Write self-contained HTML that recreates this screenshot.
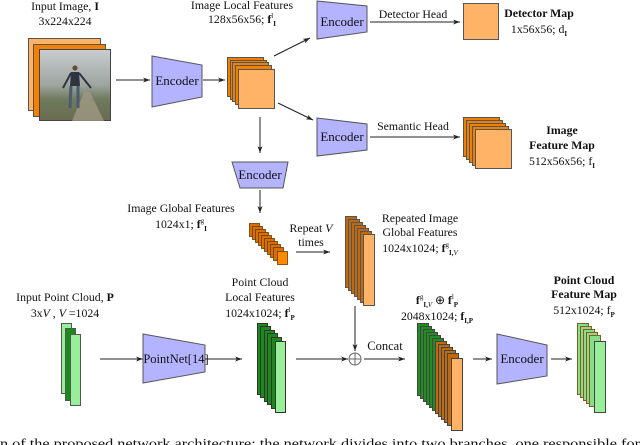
<!DOCTYPE html>
<html><head><meta charset="utf-8"><style>
html,body{margin:0;padding:0;background:#fff;}
svg{display:block;font-family:"Liberation Serif",serif;}
</style></head><body>
<svg width="640" height="445" viewBox="0 0 640 445" xmlns="http://www.w3.org/2000/svg">
<defs>
<marker id="a" markerWidth="8" markerHeight="8" refX="7" refY="4" orient="auto" markerUnits="userSpaceOnUse"><path d="M0,1.5 L7,4 L0,6.5 L2,4 Z" fill="#222"/></marker>
<linearGradient id="sky" x1="0" y1="0" x2="0" y2="1"><stop offset="0" stop-color="#c9cdd0"/><stop offset="0.5" stop-color="#9ea5a0"/><stop offset="0.7" stop-color="#6f7a5e"/><stop offset="1" stop-color="#6a6c50"/></linearGradient>
</defs>
<g fill="#111" font-size="11.8" text-anchor="middle">
<rect x="28.5" y="38.5" width="72" height="72" fill="#ffb366" stroke="#555"/>
<rect x="33.5" y="44.5" width="72" height="72" fill="#f58000" stroke="#555"/>
<rect x="39.5" y="49.5" width="71" height="71" fill="url(#sky)" stroke="#444"/>
<path d="M72,121 L84,92 L90,92 L104,121 Z" fill="#a09885" opacity="0.8"/>
<circle cx="75" cy="68" r="2.6" fill="#6a4a3a"/>
<path d="M71,72 L79,72 L80,86 L70,86 Z" fill="#2f3540"/>
<path d="M71,73 L63,88 M79,73 L91,88" stroke="#2f3540" stroke-width="2"/>
<path d="M71,86 L70,108 M78,86 L78,108" stroke="#4a5a70" stroke-width="3"/>
<text x="65" y="10">Input Image, <tspan font-weight="bold">I</tspan></text>
<text x="65" y="25">3x224x224</text>
<line x1="116" y1="80" x2="150" y2="80" stroke="#222" marker-end="url(#a)"/>
<path d="M152,56 L202,65 L202,97 L152,107 Z" fill="#b3b3ff" stroke="#555"/>
<text x="177" y="85" font-size="13">Encoder</text>
<line x1="203" y1="80" x2="225" y2="80" stroke="#222" marker-end="url(#a)"/>
<g stroke="#555" fill="#f08000">
<rect x="227.5" y="57.5" width="36" height="39"/><rect x="230.5" y="60.5" width="36" height="39"/><rect x="232.5" y="62.5" width="36" height="39"/><rect x="235.5" y="65.5" width="36" height="39"/><rect x="238.5" y="69.5" width="36" height="39" fill="#ffb366"/>
</g>
<text x="242" y="9">Image Local Features</text>
<text x="242" y="23">128x56x56; <tspan font-weight="bold">f</tspan><tspan font-size="7" dy="-5">l</tspan><tspan font-size="7" font-weight="bold" dy="8">I</tspan></text>
<line x1="274" y1="56" x2="310" y2="38" stroke="#222" marker-end="url(#a)"/>
<line x1="278" y1="103" x2="313" y2="120" stroke="#222" marker-end="url(#a)"/>
<path d="M317,1 L367,6 L367,32 L317,39 Z" fill="#b3b3ff" stroke="#555"/>
<text x="342" y="26" font-size="13">Encoder</text>
<line x1="370" y1="22" x2="460" y2="22" stroke="#222" marker-end="url(#a)"/>
<text x="413" y="18">Detector Head</text>
<rect x="463.5" y="3.5" width="35" height="36" fill="#ffb366" stroke="#555"/>
<text x="539" y="17" font-weight="bold">Detector Map</text>
<text x="539" y="33">1x56x56; d<tspan font-size="7" font-weight="bold" dy="3">I</tspan></text>
<path d="M317,118 L367,124 L367,150 L317,156 Z" fill="#b3b3ff" stroke="#555"/>
<text x="342" y="141" font-size="13">Encoder</text>
<line x1="370" y1="137" x2="460" y2="137" stroke="#222" marker-end="url(#a)"/>
<text x="413" y="130">Semantic Head</text>
<g stroke="#555" fill="#f08000">
<rect x="463.5" y="117.5" width="36" height="39"/><rect x="466.5" y="120.5" width="36" height="39"/><rect x="469.5" y="123.5" width="36" height="39"/><rect x="472.5" y="126.5" width="36" height="39"/><rect x="475.5" y="129.5" width="36" height="39" fill="#ffb366"/>
</g>
<text x="562" y="134" font-weight="bold">Image</text>
<text x="562" y="149" font-weight="bold">Feature Map</text>
<text x="562" y="165">512x56x56; f<tspan font-size="7" font-weight="bold" dy="3">I</tspan></text>
<line x1="260" y1="117" x2="260" y2="153" stroke="#222" marker-end="url(#a)"/>
<path d="M232,162 L288,162 L283,188 L240,188 Z" fill="#b3b3ff" stroke="#555"/>
<text x="260" y="179" font-size="13">Encoder</text>
<line x1="260" y1="190" x2="260" y2="213" stroke="#222" marker-end="url(#a)"/>
<text x="181" y="212">Image Global Features</text>
<text x="181" y="228">1024x1; <tspan font-weight="bold">f</tspan><tspan font-size="7" dy="-5">g</tspan><tspan font-size="7" font-weight="bold" dy="8">I</tspan></text>
<g stroke="#6b3a00" stroke-width="0.8" fill="#d86f00">
<rect x="249.5" y="223.5" width="10" height="13"/><rect x="252.5" y="226.5" width="10" height="13"/><rect x="255.5" y="229.5" width="10" height="13"/><rect x="258.5" y="232.5" width="10" height="13"/><rect x="261.5" y="235.5" width="10" height="13"/><rect x="264.5" y="238.5" width="10" height="13"/><rect x="267.5" y="241.5" width="10" height="13"/><rect x="270.5" y="244.5" width="10" height="13"/><rect x="273.5" y="247.5" width="10" height="13"/><rect x="277.5" y="251.5" width="10" height="13" fill="#ff8a00"/>
</g>
<text x="311" y="232">Repeat <tspan font-style="italic">V</tspan></text>
<text x="311" y="246">times</text>
<line x1="296" y1="252" x2="330" y2="252" stroke="#222" marker-end="url(#a)"/>
<g stroke="#555" fill="#c06a10">
<rect x="345.5" y="216.5" width="11" height="71"/><rect x="348.5" y="219.5" width="11" height="71"/><rect x="351.5" y="222.5" width="11" height="71"/><rect x="354.5" y="225.5" width="11" height="71"/><rect x="357.5" y="228.5" width="11" height="71"/><rect x="360.5" y="231.5" width="11" height="71"/><rect x="363.5" y="234.5" width="11" height="71" fill="#ffb366"/>
</g>
<text x="420" y="222">Repeated Image</text>
<text x="420" y="236">Global Features</text>
<text x="420" y="252">1024x1024; <tspan font-weight="bold">f</tspan><tspan font-size="7" dy="-5">g</tspan><tspan font-size="7" font-weight="bold" dy="8">I,</tspan><tspan font-size="7" font-style="italic">V</tspan></text>
<line x1="355" y1="306" x2="355" y2="351" stroke="#222" marker-end="url(#a)"/>
<circle cx="355" cy="359" r="6" fill="none" stroke="#666"/>
<path d="M349,359 H361 M355,353 V365" stroke="#666"/>
<line x1="296" y1="359" x2="348" y2="359" stroke="#222" marker-end="url(#a)"/>
<text x="385" y="350" font-size="12.5">Concat</text>
<line x1="364" y1="359" x2="405" y2="359" stroke="#222" marker-end="url(#a)"/>
<g stroke="#444">
<rect x="417.5" y="323.5" width="11" height="72" fill="#1f8f1f"/><rect x="420.5" y="326.5" width="11" height="72" fill="#1f8f1f"/><rect x="423.5" y="329.5" width="11" height="72" fill="#1f8f1f"/><rect x="426.5" y="332.5" width="11" height="72" fill="#1f8f1f"/><rect x="429.5" y="335.5" width="11" height="72" fill="#1f8f1f"/><rect x="432.5" y="338.5" width="11" height="72" fill="#1f8f1f"/>
<rect x="435.5" y="341.5" width="11" height="72" fill="#c06a10"/><rect x="438.5" y="344.5" width="11" height="72" fill="#c06a10"/><rect x="441.5" y="347.5" width="11" height="72" fill="#c06a10"/><rect x="444.5" y="350.5" width="11" height="72" fill="#c06a10"/><rect x="447.5" y="353.5" width="11" height="72" fill="#c06a10"/><rect x="451.5" y="358.5" width="11" height="72" fill="#ffb366"/>
</g>
<text x="437" y="304"><tspan font-weight="bold">f</tspan><tspan font-size="7" dy="-5">g</tspan><tspan font-size="7" font-weight="bold" dy="8">I,</tspan><tspan font-size="7" font-style="italic">V</tspan><tspan dy="-3"> ⊕ </tspan><tspan font-weight="bold">f</tspan><tspan font-size="7" dy="-5">l</tspan><tspan font-size="7" font-weight="bold" dy="8">P</tspan></text>
<text x="437" y="320">2048x1024; <tspan font-weight="bold">f</tspan><tspan font-size="7" font-weight="bold" dy="3">I,P</tspan></text>
<line x1="473" y1="359" x2="492" y2="359" stroke="#222" marker-end="url(#a)"/>
<path d="M497,334 L547,345 L547,376 L497,384 Z" fill="#b3b3ff" stroke="#555"/>
<text x="522" y="363" font-size="13">Encoder</text>
<line x1="551" y1="359" x2="572" y2="359" stroke="#222" marker-end="url(#a)"/>
<g stroke="#8a5a20" fill="#88dd88">
<rect x="577.5" y="323.5" width="11" height="71"/><rect x="580.5" y="326.5" width="11" height="71"/><rect x="583.5" y="329.5" width="11" height="71"/><rect x="586.5" y="332.5" width="11" height="71"/><rect x="589.5" y="335.5" width="11" height="71"/><rect x="594.5" y="341.5" width="11" height="71" fill="#99ee99" stroke="#444"/>
</g>
<text x="584" y="284" font-weight="bold">Point Cloud</text>
<text x="584" y="298" font-weight="bold">Feature Map</text>
<text x="584" y="314">512x1024; f<tspan font-size="7" font-weight="bold" dy="3">P</tspan></text>
<text x="65" y="301">Input Point Cloud, <tspan font-weight="bold">P</tspan></text>
<text x="65" y="317">3x<tspan font-style="italic">V</tspan> , <tspan font-style="italic">V</tspan> =1024</text>
<rect x="61.5" y="323.5" width="10" height="70" fill="#99ee99" stroke="#555"/>
<rect x="65.5" y="328.5" width="10" height="72" fill="#1a8a1a" stroke="#555"/>
<rect x="70.5" y="334.5" width="10" height="71" fill="#99ee99" stroke="#555"/>
<line x1="100" y1="359" x2="143" y2="359" stroke="#222" marker-end="url(#a)"/>
<path d="M143,334 L205,345 L205,372 L143,383 Z" fill="#b3b3ff" stroke="#555"/>
<text x="176" y="363" font-size="12.5">PointNet[14]</text>
<line x1="205" y1="359" x2="242" y2="359" stroke="#222" marker-end="url(#a)"/>
<g stroke="#333" fill="#1a8a1a">
<rect x="257.5" y="323.5" width="10" height="71"/><rect x="260.5" y="326.5" width="10" height="71"/><rect x="264.5" y="330.5" width="10" height="71"/><rect x="267.5" y="333.5" width="10" height="71"/><rect x="271.5" y="337.5" width="10" height="71"/><rect x="275.5" y="341.5" width="10" height="71" fill="#99ee99"/>
</g>
<text x="260" y="286">Point Cloud</text>
<text x="260" y="301">Local Features</text>
<text x="260" y="317">1024x1024; <tspan font-weight="bold">f</tspan><tspan font-size="7" dy="-5">l</tspan><tspan font-size="7" font-weight="bold" dy="8">P</tspan></text>
<text x="0" y="448" font-size="13.5" text-anchor="start" textLength="640" lengthAdjust="spacingAndGlyphs">n of the proposed network architecture; the network divides into two branches, one responsible for</text>
</g>
</svg>
</body></html>
